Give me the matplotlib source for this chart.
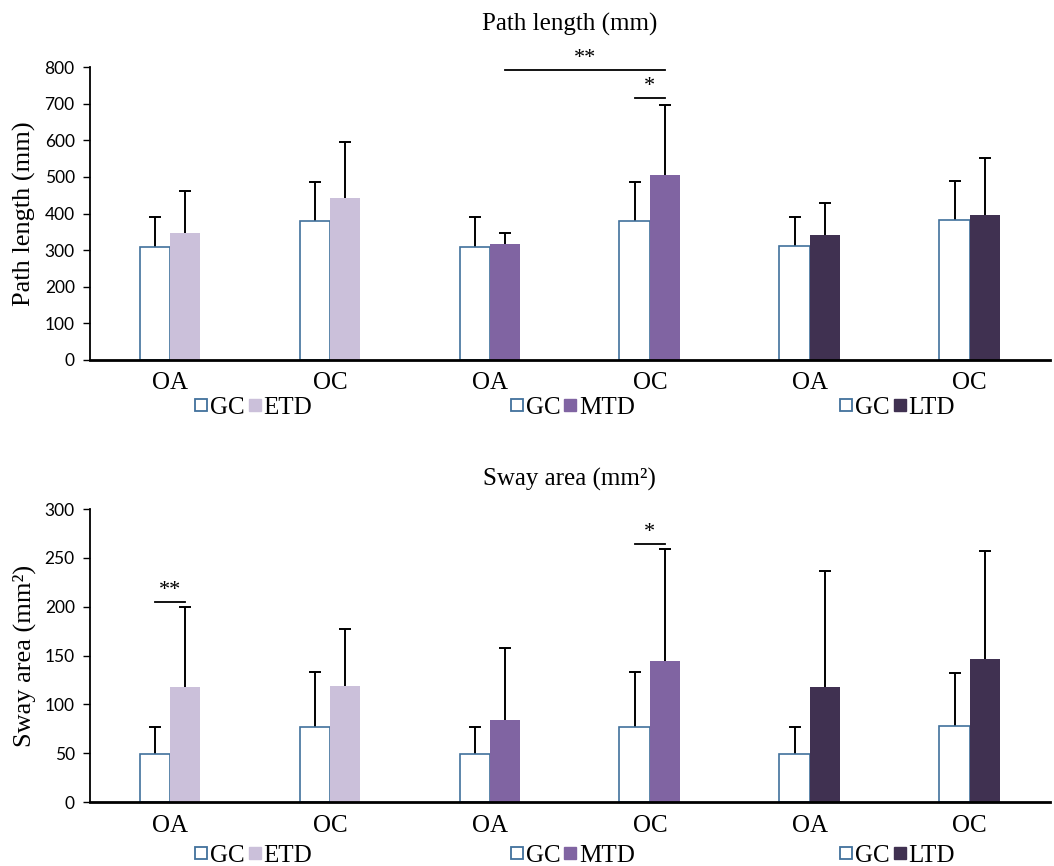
import numpy as np
import matplotlib
matplotlib.use('Agg')
from matplotlib import pyplot as plt
from matplotlib.lines import Line2D

# Categorias (pares OA / OC para cada grupo de comparacion)
categorias = ['OA', 'OC', 'OA', 'OC', 'OA', 'OC']
grupos = ['ETD', 'ETD', 'MTD', 'MTD', 'LTD', 'LTD']

# Path length (mm)
path_gc = [308, 380, 308, 380, 311, 382]
path_gc_err = [82, 107, 82, 107, 80, 108]
path_td = [348, 441, 317, 505, 341, 396]
path_td_err = [114, 155, 31, 191, 87, 155]

# Sway area (mm2)
sway_gc = [49.5, 77, 49.5, 77, 49.5, 77.5]
sway_gc_err = [27, 56, 27, 56, 27, 55]
sway_td = [118, 119, 84, 144, 118, 146]
sway_td_err = [82, 58, 74, 115, 119, 111]

colores = {'ETD': '#CBC0DA', 'MTD': '#8064A2', 'LTD': '#403151'}
borde_gc = '#41719C'

plt.rcParams['font.family'] = ['Liberation Serif', 'DejaVu Serif']

fig = plt.figure(figsize=(10.54, 8.66), dpi=100)
ax1 = fig.add_axes([0.0854, 0.5843, 0.9106, 0.3383])
ax2 = fig.add_axes([0.0854, 0.0739, 0.9106, 0.3383])

ancho = 0.19
x = np.arange(len(categorias))


def barra_error(ax, xs, ys, err):
    # solo la parte superior de la barra de error
    _, caps, _ = ax.errorbar(xs, ys, yerr=[np.zeros(len(ys)), err], fmt='none',
                             ecolor='black', elinewidth=1.4, capsize=4, capthick=1.4, zorder=1)
    caps[0].set_visible(False)


def graficar(ax, gc, gc_err, td, td_err, ymax, paso, titulo, pad_titulo):
    ax.bar(x - ancho / 2, gc, ancho, color='white', edgecolor=borde_gc, linewidth=1.2, zorder=2)
    ax.bar(x + ancho / 2, td, ancho, color=[colores[g] for g in grupos], linewidth=0, zorder=2)
    barra_error(ax, x - ancho / 2, gc, gc_err)
    barra_error(ax, x + ancho / 2, td, td_err)

    ax.set_xlim(-0.5, 5.5)
    ax.set_ylim(0, ymax)
    ax.set_yticks(np.arange(0, ymax + 1, paso))
    ax.set_xticks(x)
    ax.set_xticklabels(categorias, fontsize=18)
    ax.tick_params(axis='x', length=0, pad=9)
    ax.tick_params(axis='y', length=5, width=1, labelsize=12.5, pad=6)
    for lab in ax.get_yticklabels():
        lab.set_fontfamily('Lato')
    ax.spines['top'].set_visible(False)
    ax.spines['right'].set_visible(False)
    ax.spines['left'].set_linewidth(1.3)
    ax.spines['bottom'].set_linewidth(2)
    ax.set_ylabel(titulo, fontsize=19, labelpad=6)
    ax.set_title(titulo, fontsize=18, pad=pad_titulo)


def significancia(ax, x0, x1, y, texto, dy):
    ax.plot([x0, x1], [y, y], color='black', linewidth=1.3)
    ax.text((x0 + x1) / 2, y + dy, texto, ha='center', va='bottom', fontsize=16)


graficar(ax1, path_gc, path_gc_err, path_td, path_td_err, 800, 100, 'Path length (mm)', 26)
graficar(ax2, sway_gc, sway_gc_err, sway_td, sway_td_err, 300, 50, 'Sway area (mm²)', 17)

significancia(ax1, 2 + ancho / 2, 3 + ancho / 2, 792, '**', 5)
significancia(ax1, 3 - ancho / 2, 3 + ancho / 2, 716, '*', 5)
significancia(ax2, 0 - ancho / 2, 0 + ancho / 2, 205, '**', 2)
significancia(ax2, 3 - ancho / 2, 3 + ancho / 2, 264, '*', 2)

# Leyendas por par de grupos
for yl in [0.529, 0.012]:
    for g, xl in zip(['ETD', 'MTD', 'LTD'], [0.240, 0.543, 0.851]):
        h_gc = Line2D([], [], marker='s', linestyle='none', markersize=9,
                      markerfacecolor='white', markeredgecolor=borde_gc, markeredgewidth=1.3)
        h_td = Line2D([], [], marker='s', linestyle='none', markersize=8,
                      markerfacecolor=colores[g], markeredgecolor=colores[g])
        fig.legend([h_gc, h_td], ['GC', g], loc='center', bbox_to_anchor=(xl, yl),
                   ncol=2, frameon=False, fontsize=18, handlelength=0.6,
                   handletextpad=0.05, columnspacing=0.1, borderpad=0)

plt.savefig('out.png', dpi=100)
